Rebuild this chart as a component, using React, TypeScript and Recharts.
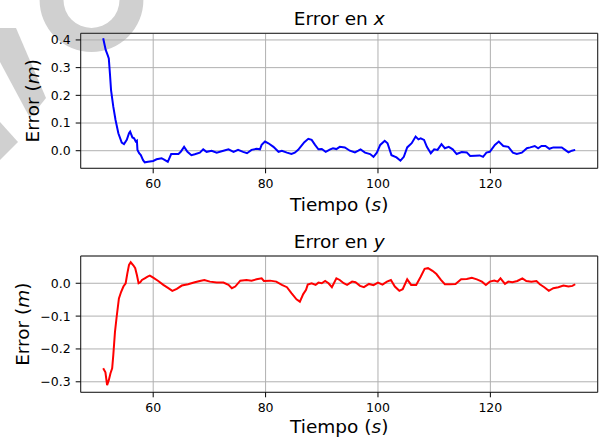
import { LineChart, Line, XAxis, YAxis, CartesianGrid, ReferenceArea, Label } from "recharts";

// sample times (s) and position error (m) along x
const timeX = [
  51.1, 51.55, 51.9, 52.1, 52.3, 52.5, 52.9, 53.3, 53.8, 54.4, 54.8, 55.3, 55.7, 55.9, 56.3, 56.6,
  56.9, 57.1, 57.2, 57.5, 57.8, 58.2, 58.5, 59.1, 60.0, 60.6, 61.5, 62.1, 62.6, 63.2, 63.9, 64.5,
  64.9, 65.5, 66.1, 66.8, 67.4, 68.3, 68.9, 69.5, 70.4, 71.3, 72.5, 73.4, 74.3, 75.1, 76.0, 76.7,
  77.5, 78.4, 79.0, 79.3, 79.9, 80.5, 81.4, 82.3, 82.9, 83.8, 84.6, 85.2, 85.8, 86.4, 86.9, 87.6,
  88.2, 88.8, 89.4, 90.0, 90.7, 91.5, 92.0, 92.6, 93.2, 94.1, 95.0, 95.9, 96.5, 96.9, 97.7, 98.6,
  99.2, 99.8, 100.4, 101.2, 101.7, 102.4, 103.3, 104.0, 104.6, 105.2, 106.0, 106.7, 107.2, 107.6,
  108.2, 108.7, 109.4, 110.0, 110.6, 111.3, 111.9, 112.6, 113.3, 114.0, 114.9, 115.8, 116.4, 117.3,
  118.1, 118.7, 119.3, 119.9, 120.8, 121.5, 122.3, 123.2, 124.0, 124.7, 125.6, 126.5, 127.1, 127.9,
  128.5, 129.1, 129.8, 130.5, 131.2, 132.1, 132.7, 133.3, 133.9, 134.5, 135.1,
];
const errorX = [
  0.406, 0.364, 0.345, 0.333, 0.279, 0.219, 0.159, 0.111, 0.063, 0.029, 0.024, 0.039, 0.063, 0.069,
  0.048, 0.045, 0.033, 0.036, 0.003, -0.009, -0.016, -0.034, -0.042, -0.04, -0.037, -0.031, -0.027,
  -0.034, -0.04, -0.012, -0.012, -0.012, -0.004, 0.014, -0.004, -0.016, -0.013, -0.007, 0.005,
  -0.004, 0.0, -0.007, 0.0, 0.005, -0.004, 0.003, -0.004, -0.009, 0.003, 0.007, 0.005, 0.021, 0.033,
  0.027, 0.014, -0.004, 0.0, -0.007, -0.012, -0.007, 0.003, 0.018, 0.031, 0.043, 0.039, 0.021, 0.005,
  0.006, -0.004, 0.005, 0.009, 0.006, 0.014, 0.012, 0.0, -0.006, 0.0, 0.005, -0.007, -0.012, -0.022,
  -0.007, 0.021, 0.036, 0.027, -0.016, -0.024, -0.036, -0.022, 0.012, 0.027, 0.051, 0.041, 0.045,
  0.039, 0.014, -0.009, 0.005, 0.003, 0.024, 0.009, 0.014, 0.005, -0.012, -0.005, -0.006, -0.019,
  -0.018, -0.017, -0.022, -0.007, -0.004, 0.021, 0.033, 0.017, 0.014, -0.007, -0.012, -0.007, 0.009,
  0.012, 0.017, 0.009, 0.017, 0.017, 0.007, 0.012, 0.012, 0.012, 0.003, -0.006, 0.0, 0.003,
];

// sample times (s) and position error (m) along y
const timeY = [
  51.1, 51.5, 51.8, 52.1, 52.4, 52.7, 52.9, 53.2, 53.5, 53.9, 54.3, 54.7, 55.1, 55.4, 55.7, 56.0,
  56.5, 56.8, 57.1, 57.4, 57.7, 58.0, 58.5, 59.0, 59.4, 60.0, 60.9, 61.8, 62.7, 63.4, 64.2, 65.1,
  66.2, 67.4, 68.3, 69.1, 70.1, 71.3, 72.5, 73.4, 74.0, 74.6, 75.5, 76.6, 77.5, 78.4, 79.3, 79.7,
  80.8, 81.9, 82.9, 83.8, 84.6, 85.5, 86.1, 86.7, 87.2, 87.5, 88.2, 88.9, 89.4, 90.0, 90.6, 91.2,
  91.8, 92.6, 93.2, 93.9, 94.5, 95.4, 96.0, 96.8, 97.5, 98.4, 99.2, 100.0, 100.8, 101.6, 102.3,
  103.0, 103.8, 104.4, 105.2, 105.9, 106.8, 107.6, 108.3, 108.9, 109.7, 110.4, 111.2, 111.9, 112.8,
  113.8, 114.8, 115.8, 116.7, 117.6, 118.5, 119.2, 119.9, 120.7, 121.3, 121.8, 122.6, 123.2, 123.9,
  124.8, 125.7, 126.4, 127.3, 128.2, 128.8, 129.6, 130.4, 131.2, 132.1, 133.0, 133.9, 134.6, 135.1,
];
const errorY = [
  -0.259, -0.271, -0.31, -0.295, -0.274, -0.259, -0.219, -0.148, -0.102, -0.046, -0.026, -0.01, 0.0,
  0.03, 0.056, 0.064, 0.054, 0.046, 0.025, 0.0, 0.003, 0.01, 0.015, 0.02, 0.023, 0.017, 0.007, -0.005,
  -0.015, -0.023, -0.017, -0.007, -0.003, 0.003, 0.007, 0.01, 0.005, 0.002, 0.002, -0.005, -0.015,
  -0.01, 0.008, 0.01, 0.008, 0.012, 0.015, 0.007, 0.008, 0.005, -0.005, -0.012, -0.03, -0.049, -0.056,
  -0.033, -0.02, -0.004, 0.0, -0.005, 0.002, 0.0, 0.007, 0.0, -0.012, 0.015, 0.01, 0.0, -0.005, 0.005,
  0.003, -0.008, -0.012, -0.002, -0.006, 0.002, -0.004, 0.005, 0.01, -0.01, -0.023, -0.018, 0.012,
  -0.005, -0.005, 0.02, 0.044, 0.046, 0.038, 0.028, 0.01, -0.003, -0.003, -0.002, 0.012, 0.013, 0.017,
  0.012, 0.005, -0.005, 0.005, 0.008, 0.005, 0.015, -0.002, 0.005, 0.003, 0.007, 0.015, 0.007, 0.005,
  0.007, -0.003, -0.012, -0.023, -0.015, -0.012, -0.007, -0.01, -0.008, -0.003,
];

const timeTicks = [60, 80, 100, 120];
const ticksErrX = [0, 0.1, 0.2, 0.3, 0.4];
const ticksErrY = [-0.3, -0.2, -0.1, 0];

const T_DOMAIN: [number, number] = [47.1, 139.1];
const FONT = "'DejaVu Sans', sans-serif";

const dataX = timeX.map((t, i) => ({ t, e: errorX[i] }));
const dataY = timeY.map((t, i) => ({ t, e: errorY[i] }));

const fmt = (v: number) => (v < -1e-9 ? "\u2212" : "") + Math.abs(v).toFixed(1);

type PanelProps = {
  data: { t: number; e: number }[];
  color: string;
  domain: [number, number];
  ticks: number[];
  height: number;
  plotTop: number;
  plotBottom: number;
  xTitleFromBottom: number;
  yTitleX: number;
};

const Panel = ({ data, color, domain, ticks, height, plotTop, plotBottom, xTitleFromBottom, yTitleX }: PanelProps) => {
  const tickStyle = { fontSize: 12.5, fill: "#000", fontFamily: FONT };
  return (
    <LineChart
      width={603}
      height={height}
      data={data}
      margin={{ top: plotTop, right: 5.3, bottom: 0, left: 0 }}
    >
      <CartesianGrid stroke="#b0b0b0" strokeWidth={1} />
      <XAxis
        type="number"
        dataKey="t"
        domain={T_DOMAIN}
        ticks={timeTicks}
        allowDataOverflow
        height={height - plotBottom}
        axisLine={false}
        tickSize={5}
        tickMargin={6}
        tickLine={{ stroke: "#000" }}
        tick={tickStyle}
      >
        <Label
          content={(p: any) => {
            const vb = p.viewBox;
            return (
              <text
                x={vb.x + vb.width / 2}
                y={vb.y + vb.height - xTitleFromBottom}
                textAnchor="middle"
                fontSize={18.5}
                fontFamily={FONT}
                fill="#000"
              >
                Tiempo (<tspan fontStyle="italic">s</tspan>)
              </text>
            );
          }}
        />
      </XAxis>
      <YAxis
        type="number"
        domain={domain}
        ticks={ticks}
        allowDataOverflow
        width={80.7}
        axisLine={false}
        tickSize={5}
        tickMargin={5}
        tickLine={{ stroke: "#000" }}
        tick={tickStyle}
        tickFormatter={fmt}
      >
        <Label
          content={(p: any) => {
            const vb = p.viewBox;
            const cy = vb.y + vb.height / 2;
            return (
              <text
                x={yTitleX}
                y={cy}
                transform={`rotate(-90 ${yTitleX} ${cy})`}
                textAnchor="middle"
                fontSize={18.5}
                fontFamily={FONT}
                fill="#000"
              >
                Error (<tspan fontStyle="italic">m</tspan>)
              </text>
            );
          }}
        />
      </YAxis>
      <Line
        type="linear"
        dataKey="e"
        stroke={color}
        strokeWidth={2}
        dot={false}
        isAnimationActive={false}
      />
      <ReferenceArea
        x1={T_DOMAIN[0]}
        x2={T_DOMAIN[1]}
        y1={domain[0]}
        y2={domain[1]}
        fill="none"
        stroke="#222"
        strokeWidth={1}
        ifOverflow="visible"
      />
    </LineChart>
  );
};

export default function App() {
  return (
    <div style={{ position: "absolute", left: 0, top: 0, width: 603, height: 441, background: "#fff", fontFamily: FONT }}>
      <svg width={603} height={441} style={{ position: "absolute", left: 0, top: 0 }}>
        <g fill="#d0d0d0">
          <path d="M 39.6 0 A 51.6 51.6 0 0 0 143.4 0 L 119.5 0 A 28 28 0 0 1 63.5 0 Z" />
          <polygon points="0,28 16,28 46,98 30,118 0,62" />
          <polygon points="0,122 18,142 0,160" />
        </g>
        <text x={339.2} y={25.3} textAnchor="middle" fontSize={18.5} fontFamily={FONT} fill="#000">
          Error en <tspan fontStyle="italic">x</tspan>
        </text>
        <text x={339.2} y={248} textAnchor="middle" fontSize={18.5} fontFamily={FONT} fill="#000">
          Error en <tspan fontStyle="italic">y</tspan>
        </text>
      </svg>
      <div style={{ position: "absolute", left: 0, top: 0 }}>
        <Panel
          data={dataX}
          color="#0000ff"
          domain={[-0.0635, 0.424]}
          ticks={ticksErrX}
          height={220}
          plotTop={33.3}
          plotBottom={168.3}
          xTitleFromBottom={9.5}
          yTitleX={39.3}
        />
      </div>
      <div style={{ position: "absolute", left: 0, top: 220 }}>
        <Panel
          data={dataY}
          color="#ff0000"
          domain={[-0.332, 0.083]}
          ticks={ticksErrY}
          height={221}
          plotTop={36}
          plotBottom={172.3}
          xTitleFromBottom={8}
          yTitleX={29.3}
        />
      </div>
    </div>
  );
}
